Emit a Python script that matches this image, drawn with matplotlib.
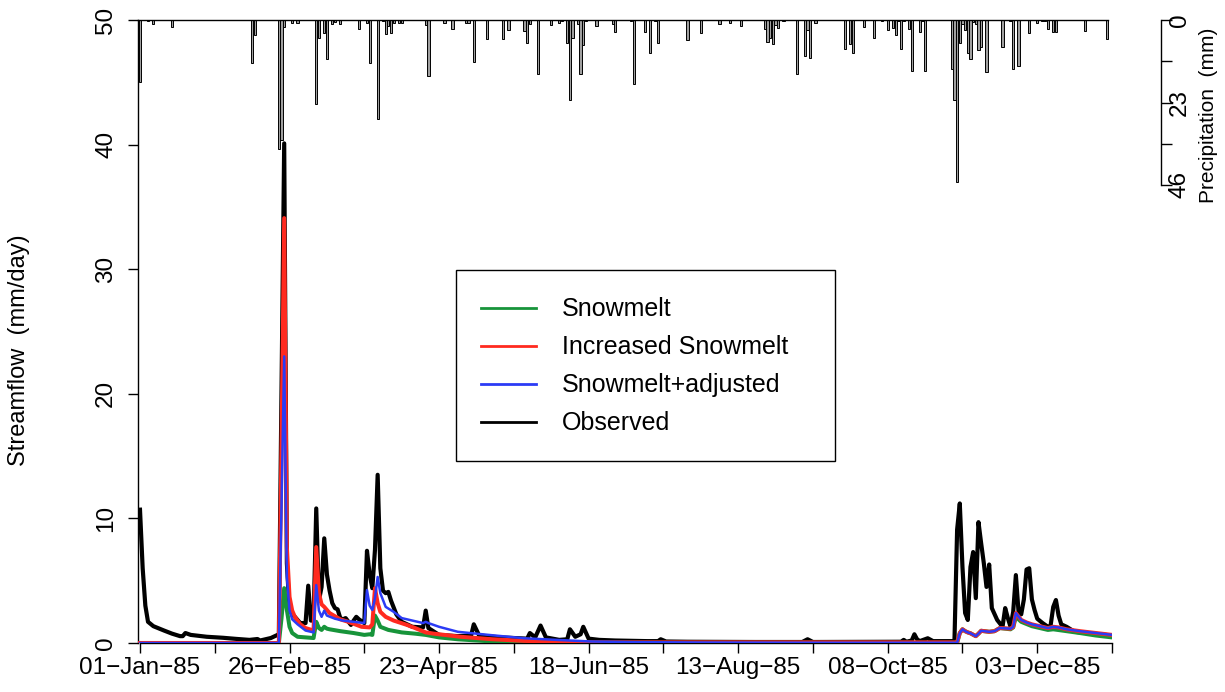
import matplotlib
matplotlib.use("Agg")
import matplotlib.pyplot as plt
from matplotlib.lines import Line2D
from matplotlib.patches import Rectangle

plt.rcParams['font.family'] = ['Liberation Sans', 'DejaVu Sans']
FS = 17.5

# day index: 0 = 01-Jan-85
tick_days = [0, 28, 56, 84, 112, 140, 168, 196, 224, 252, 280, 308, 336, 364]
tick_labels = ['01−Jan−85', '', '26−Feb−85', '', '23−Apr−85', '', '18−Jun−85', '',
               '13−Aug−85', '', '08−Oct−85', '', '03−Dec−85', '']

# daily precipitation (mm), only wet days
precip_day = [0, 3, 5, 12, 42, 43, 52, 53, 54, 57, 59, 66, 67, 69, 70, 72, 73, 75, 82, 85,
              86, 89, 91, 92, 93, 94, 95, 97, 98, 107, 108, 114, 117, 122, 123, 125, 130,
              136, 138, 144, 145, 146, 149, 154, 157, 158, 160, 161, 162, 164, 165, 166,
              167, 171, 177, 178, 184, 185, 189, 191, 193, 194, 205, 210, 217, 221, 225,
              234, 235, 236, 237, 238, 239, 241, 246, 249, 250, 251, 253, 264, 266, 267,
              271, 275, 278, 280, 282, 283, 284, 285, 286, 288, 289, 292, 293, 294, 304,
              305, 306, 307, 308, 309, 310, 311, 312, 313, 314, 315, 317, 323, 326, 327,
              329, 333, 336, 338, 339, 340, 342, 343, 354, 362]
precip_mm = [17.4, 0.3, 1.1, 1.9, 11.9, 4.1, 36.0, 33.4, 1.9, 0.9, 0.9, 23.3, 4.9, 3.7, 10.8,
             1.2, 0.5, 1.2, 2.4, 0.7, 11.9, 27.5, 0.3, 4.0, 1.7, 3.7, 0.7, 0.7, 0.7, 1.4,
             15.5, 0.7, 2.4, 0.7, 0.7, 11.7, 5.2, 5.2, 2.9, 3.2, 6.3, 1.2, 15.0, 1.5, 0.7,
             0.3, 6.5, 22.4, 5.0, 1.2, 15.0, 7.1, 0.3, 1.7, 1.2, 3.3, 0.4, 17.8, 3.3, 9.1,
             0.4, 6.5, 5.6, 3.7, 1.2, 0.7, 1.7, 2.4, 6.0, 4.9, 6.8, 1.5, 2.3, 0.3, 15.0,
             9.9, 2.8, 10.5, 0.7, 8.2, 6.8, 9.1, 1.9, 4.9, 0.3, 2.9, 2.1, 4.2, 0.4, 8.2,
             0.3, 2.4, 14.3, 3.3, 0.3, 14.1, 13.6, 22.2, 45.3, 6.5, 1.2, 2.8, 9.1, 10.8,
             0.5, 1.2, 8.4, 7.6, 14.6, 7.6, 0.3, 13.6, 12.9, 3.7, 0.9, 0.3, 0.3, 2.4, 3.3,
             3.3, 3.0, 5.4]

# observed streamflow (mm/day)
obs_day = [0, 1, 2, 3, 5, 9, 12, 15, 16, 17, 19, 25, 31, 36, 41, 44, 45, 49, 51, 52, 53, 54,
           55, 56, 58, 60, 62, 63, 64, 65, 66, 67, 68, 69, 70, 71, 72, 73, 74, 75, 76, 77,
           79, 80, 81, 82, 84, 85, 86, 87, 88, 89, 90, 91, 92, 93, 94, 96, 98, 102, 106,
           107, 108, 112, 119, 124, 125, 127, 135, 140, 145, 146, 148, 150, 152, 157, 160,
           161, 163, 165, 166, 168, 172, 178, 190, 194, 195, 197, 205, 230, 248, 250, 252,
           285, 286, 287, 289, 290, 291, 292, 295, 297, 305, 306, 307, 308, 309, 310, 311,
           312, 313, 314, 315, 316, 317, 318, 319, 321, 323, 324, 325, 326, 327, 328, 329,
           330, 331, 332, 333, 334, 335, 336, 338, 340, 341, 342, 343, 344, 345, 347, 350,
           357, 364]
obs_q = [10.7, 6.0, 3.0, 1.7, 1.35, 1.0, 0.75, 0.55, 0.55, 0.8, 0.65, 0.5, 0.42, 0.33, 0.25,
         0.32, 0.2, 0.4, 0.6, 0.7, 20.0, 40.1, 6.4, 2.6, 2.1, 1.6, 1.6, 4.6, 1.8, 1.8, 10.8,
         3.4, 4.5, 8.4, 5.5, 4.2, 3.2, 2.8, 2.7, 2.0, 1.9, 2.0, 1.45, 1.8, 2.1, 1.9, 1.6,
         7.4, 5.5, 4.4, 7.5, 13.5, 6.0, 4.2, 4.0, 4.1, 3.4, 2.3, 1.7, 1.3, 1.25, 2.6, 1.2,
         0.65, 0.55, 0.6, 1.5, 0.6, 0.45, 0.4, 0.35, 0.8, 0.45, 1.4, 0.45, 0.25, 0.3, 1.1,
         0.5, 0.7, 1.3, 0.35, 0.25, 0.2, 0.15, 0.15, 0.3, 0.12, 0.1, 0.08, 0.08, 0.3, 0.08,
         0.1, 0.25, 0.1, 0.2, 0.7, 0.3, 0.15, 0.38, 0.15, 0.15, 9.1, 11.2, 6.1, 2.4, 1.85,
         6.1, 7.3, 3.6, 9.7, 8.0, 6.4, 4.5, 6.3, 2.8, 1.85, 1.3, 2.8, 2.0, 1.3, 2.5, 5.45,
         2.5, 2.3, 3.5, 5.9, 6.0, 3.5, 2.65, 1.95, 1.6, 1.3, 1.4, 2.9, 3.45, 2.2, 1.5, 1.3,
         0.9, 0.75, 0.6]

# simulated: Snowmelt
snow_day = [0, 52, 53, 54, 55, 56, 57, 59, 62, 65, 66, 67, 68, 69, 70, 71, 75, 80, 84, 86,
            87, 88, 89, 90, 93, 98, 103, 107, 112, 119, 132, 145, 165, 306, 307, 308, 309,
            310, 311, 313, 314, 315, 318, 320, 322, 326, 327, 328, 330, 334, 340, 342, 347,
            352, 358, 364]
snow_q = [0, 0, 2.0, 4.4, 2.65, 1.3, 0.8, 0.5, 0.45, 0.4, 1.7, 1.2, 1.05, 1.3, 1.15, 1.1,
          0.95, 0.8, 0.65, 0.7, 0.65, 2.2, 1.8, 1.3, 1.05, 0.85, 0.75, 0.65, 0.45, 0.3, 0.12,
          0.06, 0.02, 0.02, 0.8, 1.1, 0.95, 0.85, 0.78, 0.55, 0.75, 0.98, 0.9, 0.95, 1.2,
          1.1, 1.25, 2.1, 1.7, 1.35, 1.05, 1.1, 0.95, 0.8, 0.6, 0.45]

# simulated: Increased Snowmelt
inc_day = [0, 52, 53, 54, 55, 56, 57, 58, 60, 62, 65, 66, 67, 68, 69, 71, 75, 78, 83, 86,
           87, 88, 89, 90, 92, 95, 100, 103, 107, 110, 120, 132, 144, 157, 175, 306, 307,
           308, 309, 310, 311, 313, 314, 315, 318, 320, 322, 326, 327, 328, 330, 332, 334,
           337, 340, 342, 344, 347, 352, 358, 364]
inc_q = [0, 0, 16.0, 34.1, 7.7, 3.7, 2.6, 2.1, 1.5, 1.2, 1.0, 7.7, 4.0, 3.1, 2.9, 2.4, 1.9,
         1.7, 1.3, 1.25, 1.5, 4.4, 3.2, 2.5, 2.1, 1.8, 1.45, 1.2, 0.85, 0.75, 0.5, 0.3, 0.17,
         0.08, 0.05, 0.05, 0.8, 1.1, 0.95, 0.85, 0.78, 0.55, 0.75, 0.98, 0.9, 0.95, 1.2,
         1.15, 1.3, 2.4, 1.85, 1.65, 1.5, 1.35, 1.2, 1.3, 1.25, 1.1, 0.95, 0.8, 0.65]

# simulated: Snowmelt+adjusted
adj_day = [0, 52, 53, 54, 55, 56, 57, 59, 62, 65, 66, 67, 68, 69, 70, 73, 76, 80, 84, 85,
           86, 87, 88, 89, 90, 92, 95, 98, 103, 106, 107, 108, 112, 119, 132, 144, 157, 169,
           185, 210, 260, 306, 307, 308, 309, 310, 311, 313, 314, 315, 318, 320, 322, 326,
           327, 328, 330, 332, 334, 337, 340, 342, 344, 347, 352, 358, 364]
adj_q = [0, 0, 11.0, 23.0, 5.3, 2.6, 1.9, 1.5, 1.0, 0.85, 4.65, 2.6, 2.1, 2.6, 2.2, 1.95,
         1.8, 1.7, 1.6, 4.25, 3.0, 2.65, 3.6, 5.3, 4.0, 2.9, 2.5, 2.0, 1.75, 1.6, 1.7, 1.6,
         1.3, 0.9, 0.62, 0.38, 0.24, 0.12, 0.07, 0.04, 0.02, 0.02, 0.8, 1.1, 0.95, 0.85,
         0.78, 0.55, 0.75, 0.98, 0.9, 0.95, 1.2, 1.15, 1.3, 2.4, 1.85, 1.65, 1.5, 1.35, 1.2,
         1.3, 1.25, 1.1, 0.95, 0.8, 0.65]

series_names = ['Snowmelt', 'Increased Snowmelt', 'Snowmelt+adjusted', 'Observed']
series_colors = ['#17943a', '#ff2a1f', '#2b3bf5', 'black']

W, H = 1225, 692
fig = plt.figure(figsize=(W / 100, H / 100), dpi=100)

def fx(px):
    return px / W

def fy(py):
    return 1 - py / H

# plot region: day 0 at x=140, day 364 at x=1112, y 0..50 from y=643 to y=20
ppd = (1112 - 140) / 364.0
x_left = 0 - (140 - 138) / ppd
ax = fig.add_axes([fx(138), fy(643), fx(1112) - fx(138), fy(20) - fy(643)])
ax.set_xlim(x_left, 364)
ax.set_ylim(0, 50)

ax.plot(obs_day, obs_q, color=series_colors[3], lw=3.0, solid_joinstyle='round', zorder=3)
ax.plot(snow_day, snow_q, color=series_colors[0], lw=2.9, zorder=4)
ax.plot(inc_day, inc_q, color=series_colors[1], lw=2.9, zorder=5)
ax.plot(adj_day, adj_q, color=series_colors[2], lw=1.8, zorder=6)

for s in ['top', 'right']:
    ax.spines[s].set_visible(False)
ax.spines['left'].set_bounds(0, 50)
ax.spines['bottom'].set_bounds(0, 364)
for s in ['left', 'bottom']:
    ax.spines[s].set_linewidth(1.0)

ax.set_yticks([0, 10, 20, 30, 40, 50])
ax.set_yticklabels(['0', '10', '20', '30', '40', '50'], rotation=90, va='center',
                   fontsize=FS)
ax.tick_params(axis='y', direction='out', length=7, width=1.0, pad=8)
ax.set_xticks(tick_days)
ax.set_xticklabels(tick_labels, fontsize=FS)
ax.tick_params(axis='x', direction='out', length=7, width=1.0, pad=3)
ax.set_ylabel('Streamflow  (mm/day)', fontsize=17)
ax.yaxis.set_label_coords((30 - 138) / 974.0, 1 - (350 - 20) / 623.0)

# precipitation on inverted axis at top
ax2 = ax.twinx()
ax2.set_xlim(x_left, 364)
ax2.set_ylim(46 * 623 / 165.0, 0)
ax2.bar(precip_day, precip_mm, width=0.85, color='#a0a0a0', edgecolor='black',
        linewidth=0.7, align='center')
ax2.plot([x_left, 362.5], [0, 0], color='black', lw=1.0, clip_on=False)
for s in ['top', 'left', 'bottom']:
    ax2.spines[s].set_visible(False)
ax2.spines['right'].set_position(('outward', 35))
ax2.spines['right'].set_bounds(0, 46)
ax2.spines['right'].set_linewidth(1.0)
ax2.set_yticks([0, 11.5, 23, 34.5, 46])
ax2.set_yticklabels(['0', '', '23', '', '46'], rotation=90, va='center', fontsize=FS)
ax2.tick_params(axis='y', direction='out', length=8, width=1.0, pad=-2)
ax2.set_ylabel('Precipitation  (mm)', fontsize=15, rotation=90)
ax2.yaxis.set_label_coords((1199 - 138) / 974.0, 1 - (115 - 20) / 623.0)

# legend box
fig.patches.append(Rectangle((fx(456), fy(461)), fx(835) - fx(456), fy(270) - fy(461),
                             transform=fig.transFigure, fill=True, facecolor='white',
                             edgecolor='black', lw=1.0, zorder=10))
rows = [308, 346, 384, 422]
for name, col, ry in zip(series_names, series_colors, rows):
    fig.lines.append(Line2D([fx(481), fx(536)], [fy(ry), fy(ry)], color=col, lw=2.0,
                            transform=fig.transFigure, zorder=11))
    fig.text(fx(562), fy(ry + 1), name, fontsize=18, va='center', ha='left', zorder=11)

fig.savefig('out.png', dpi=100)
